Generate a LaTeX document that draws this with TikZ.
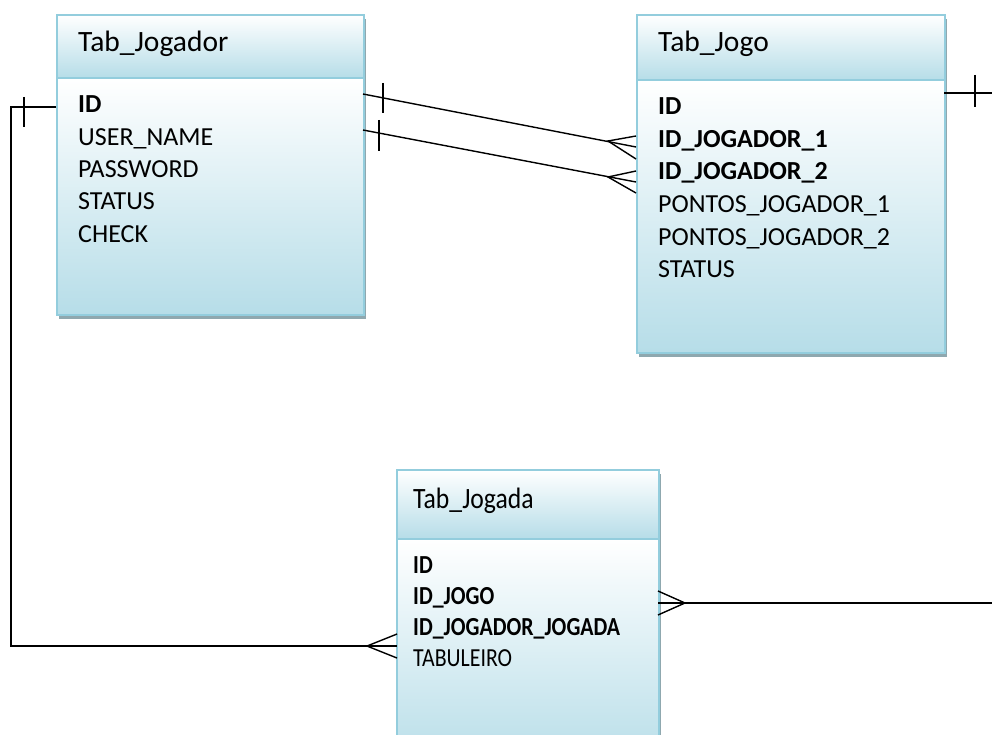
\documentclass[tikz,border=0pt]{standalone}
\usepackage{fontspec}
\setmainfont{Carlito}
\newfontfamily\narrowfont[FakeStretch=0.84]{Carlito}
\newfontfamily\narrowtitlefont[FakeStretch=0.87]{Carlito}
\usetikzlibrary{shadows}
\definecolor{tblborder}{HTML}{93CDDD}
\definecolor{tblfill}{HTML}{B6DDE8}
\definecolor{tblshadow}{HTML}{8FA8AF}
\begin{document}
\begin{tikzpicture}[x=1pt,y=-1pt,
  frame/.style={anchor=north west, inner sep=0pt, fill=white,
    drop shadow={shadow xshift=3pt, shadow yshift=-5pt, fill=tblshadow, opacity=1}},
  part/.style={anchor=north west, inner sep=0pt, draw=tblborder, line width=2pt,
    top color=white, bottom color=tblfill},
  title/.style={anchor=base west, inner sep=0pt, font=\fontsize{29.5}{32}\selectfont},
  field/.style={anchor=base west, inner sep=0pt, font=\fontsize{26}{30}\selectfont},
  conn/.style={line width=1.4pt, black},
  tick/.style={line width=1.4pt, black}]
\useasboundingbox (0,0) rectangle (992,735);

% ---------- Tab_Jogador ----------
\node[frame, minimum width=307pt, minimum height=300pt] (jogador) at (56,14) {};
\node[part, minimum width=307pt, minimum height=237pt] (jogadorBody) at (56,77) {};
\node[part, minimum width=307pt, minimum height=63pt] (jogadorHead) at (56,14) {};
\node[title] (jogadorTitle) at (78,52) {Tab\_Jogador};
\foreach \f [count=\i from 0] in {\textbf{ID}, USER\_NAME, PASSWORD, STATUS, CHECK}
  \node[field] (jr\i) at ({78},{113+32.3*\i}) {\f};

% ---------- Tab_Jogo ----------
\node[frame, minimum width=308pt, minimum height=338pt] (jogo) at (636,14) {};
\node[part, minimum width=308pt, minimum height=273pt] (jogoBody) at (636,79) {};
\node[part, minimum width=308pt, minimum height=65pt] (jogoHead) at (636,14) {};
\node[title] (jogoTitle) at (658,52) {Tab\_Jogo};
\foreach \f [count=\i from 0] in {\textbf{ID}, \textbf{ID\_JOGADOR\_1}, \textbf{ID\_JOGADOR\_2},
    PONTOS\_JOGADOR\_1, PONTOS\_JOGADOR\_2, STATUS}
  \node[field] (jg\i) at ({658},{115+32.5*\i}) {\f};

% ---------- Tab_Jogada ----------
\node[frame, minimum width=262pt, minimum height=300pt] (jogada) at (396,469) {};
\node[part, minimum width=262pt, minimum height=231pt] (jogadaBody) at (396,538) {};
\node[part, minimum width=262pt, minimum height=69pt] (jogadaHead) at (396,469) {};
\node[title, font=\narrowtitlefont\fontsize{29.5}{32}\selectfont] (jogadaTitle) at (413,508) {Tab\_Jogada};
\foreach \f [count=\i from 0] in {\textbf{ID}, \textbf{ID\_JOGO}, \textbf{ID\_JOGADOR\_JOGADA}, TABULEIRO}
  \node[field, font=\narrowfont\fontsize{26}{30}\selectfont] (jd\i) at ({413},{573+31.3*\i}) {\f};

% ---------- connector end points on the table borders ----------
\coordinate (aStart) at (56,107);
\coordinate (aEnd)   at (397,646);
\coordinate (bStart) at (363,94);
\coordinate (bEnd)   at (636,147);
\coordinate (cStart) at (363,130);
\coordinate (cEnd)   at (636,182);
\coordinate (dStart) at (944,93);
\coordinate (dEnd)   at (658,603);

% Tab_Jogador.ID (one) -- Tab_Jogada.ID_JOGADOR_JOGADA (many)
\draw[conn] (aStart) -- (11,107) -- (11,646) -- (aEnd);
\draw[tick] (24,97) -- (24,127);
\draw[conn] (aEnd |- 0,634) -- (367,646) -- (aEnd |- 0,658);

% Tab_Jogador (one) -- Tab_Jogo.ID_JOGADOR_1 (many)
\draw[conn] (bStart) -- (bEnd);
\draw[tick] (383,83) -- (383,113);
\draw[conn] (636,136) -- (608,141) -- (636,159);

% Tab_Jogador (one) -- Tab_Jogo.ID_JOGADOR_2 (many)
\draw[conn] (cStart) -- (cEnd);
\draw[tick] (379,120) -- (379,151);
\draw[conn] (636,171) -- (608,177) -- (636,193);

% Tab_Jogo.ID (one) -- Tab_Jogada.ID_JOGO (many)
\draw[conn] (dStart) -- (1000,93) -- (1000,603) -- (dEnd);
\draw[tick] (975,75) -- (975,107);
\draw[conn] (dEnd |- 0,591) -- (685,603) -- (dEnd |- 0,615);
\end{tikzpicture}
\end{document}
